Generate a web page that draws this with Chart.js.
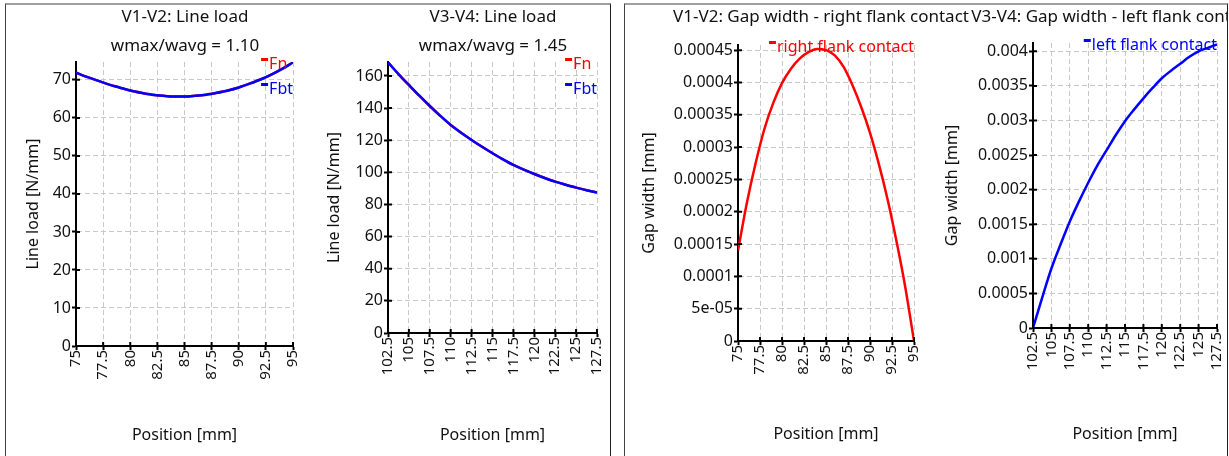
<!DOCTYPE html>
<html>
<head>
<meta charset="utf-8">
<script src="https://cdn.jsdelivr.net/npm/chart.js@4.4.1/dist/chart.umd.min.js"></script>
<style>
html, body { margin: 0; padding: 0; background: #fff; overflow: hidden; width: 1229px; height: 456px; }
.panel { position: absolute; top: 3px; height: 470px; overflow: hidden;
  border-top: 2px solid #a0a0a0; border-left: 1px solid #404040; border-right: 1px solid #202020; }
#p1 { left: 5px; width: 604px; }
#p2 { left: 624px; width: 602px; }
canvas { position: absolute; }
</style>
</head>
<body>
<div class="panel" id="p1">
  <canvas id="c1"></canvas>
  <canvas id="c2"></canvas>
</div>
<div class="panel" id="p2">
  <canvas id="c3"></canvas>
  <canvas id="c4"></canvas>
</div>
<script>
// V1-V2 line load
const posV12 = [75, 76, 77, 78, 79, 80, 81, 82, 83, 84, 85, 86, 87, 88, 89, 90, 91, 92, 93, 94, 95];
const fnV12  = [71.9, 70.8, 69.8, 68.8, 68.0, 67.2, 66.6, 66.1, 65.8, 65.6, 65.6, 65.8, 66.1, 66.6, 67.2, 68.0, 69.0, 70.1, 71.4, 72.9, 74.6];
const fbtV12 = [71.9, 70.8, 69.8, 68.8, 68.0, 67.2, 66.6, 66.1, 65.8, 65.6, 65.6, 65.8, 66.1, 66.6, 67.2, 68.0, 69.0, 70.1, 71.4, 72.9, 74.6];

// V3-V4 line load
const posV34 = [102.5, 103.75, 105, 106.25, 107.5, 108.75, 110, 111.25, 112.5, 113.75, 115,
                116.25, 117.5, 118.75, 120, 121.25, 122.5, 123.75, 125, 126.25, 127.5];
const fnV34  = [168.5, 161.2, 154.4, 147.7, 141.3, 135.2, 129.5, 124.7, 120.2, 115.9, 111.9,
                108.1, 104.6, 101.7, 99.0, 96.5, 94.2, 92.3, 90.5, 88.9, 87.4];
const fbtV34 = [168.5, 161.2, 154.4, 147.7, 141.3, 135.2, 129.5, 124.7, 120.2, 115.9, 111.9,
                108.1, 104.6, 101.7, 99.0, 96.5, 94.2, 92.3, 90.5, 88.9, 87.4];

// gap widths
const gapRightV12 = [0.000140, 0.000213, 0.000275, 0.000328, 0.000368, 0.000399, 0.000421, 0.000437, 0.000447, 0.000452, 0.000450,
                     0.000442, 0.000424, 0.000396, 0.000362, 0.000322, 0.000274, 0.000219, 0.000155, 0.000084, 0.000000];
const gapLeftV34 = [0, 0.00044, 0.00086, 0.00121, 0.00154, 0.00183, 0.00210, 0.00235, 0.00257, 0.00279, 0.00299,
                    0.00316, 0.00332, 0.00347, 0.00361, 0.00372, 0.00382, 0.00392, 0.00400, 0.00405, 0.00410];

// axis ticks
const xTicksV12 = [75, 77.5, 80, 82.5, 85, 87.5, 90, 92.5, 95];
const xTicksV34 = [102.5, 105, 107.5, 110, 112.5, 115, 117.5, 120, 122.5, 125, 127.5];
const yStepLoadV12 = 10, yMaxLoadV12 = 74.7;
const yStepLoadV34 = 20, yMaxLoadV34 = 168.7;
const yStepGapV12 = 0.00005, yMaxGapV12 = 0.000458;
const yStepGapV34 = 0.0005, yMaxGapV34 = 0.00412;

Chart.defaults.font.family = '"Noto Sans", sans-serif';
Chart.defaults.font.size = 16;
Chart.defaults.color = '#111';

const LH = 16 * 1.2;
const TS = 17, TLH = TS * 1.2;

function fmt(v) {
  if (v !== 0 && Math.abs(v) < 1e-4) {
    const parts = v.toExponential().split('e');
    return parts[0] + 'e-' + String(Math.abs(+parts[1])).padStart(2, '0');
  }
  return String(+v.toPrecision(10));
}

// small legend: dash + coloured label, right aligned at the top of the plot
const lineLegend = {
  id: 'lineLegend',
  afterDraw(chart) {
    const {ctx, chartArea} = chart;
    const sets = chart.data.datasets;
    ctx.save();
    ctx.font = '16px "Noto Sans", sans-serif';
    ctx.textBaseline = 'middle';
    const w = Math.max(...sets.map(d => ctx.measureText(d.label).width));
    const x = chartArea.right - w;
    sets.forEach((d, i) => {
      const y = chartArea.top + 2 + i * 25;
      ctx.fillStyle = d.borderColor;
      ctx.fillRect(x - 8, y - 6, 7, 3);
      ctx.fillText(d.label, x, y);
    });
    ctx.restore();
  }
};

// tick marks also reach into the plot
const innerTicks = {
  id: 'innerTicks',
  afterDraw(chart) {
    const {ctx, chartArea, scales} = chart;
    ctx.save();
    ctx.strokeStyle = '#000';
    ctx.lineWidth = 2;
    ctx.beginPath();
    scales.x.ticks.forEach(t => {
      const px = scales.x.getPixelForValue(t.value);
      ctx.moveTo(px, chartArea.bottom);
      ctx.lineTo(px, chartArea.bottom - 4);
    });
    scales.y.ticks.forEach(t => {
      const py = scales.y.getPixelForValue(t.value);
      ctx.moveTo(chartArea.left, py);
      ctx.lineTo(chartArea.left + 4, py);
    });
    ctx.stroke();
    ctx.restore();
  }
};

function makeChart(id, g, opt) {
  const panelX = g.panel === 1 ? 6 : 625, panelY = 5;
  const cw = 2 * (g.tcx - g.cl), ch = 450, ct = 5;
  const el = document.getElementById(id);
  el.width = cw; el.height = ch;
  el.style.left = (g.cl - panelX) + 'px';
  el.style.top = (ct - panelY) + 'px';
  el.style.width = cw + 'px'; el.style.height = ch + 'px';

  const titlePad = {top: g.ty - ct - TLH / 2, bottom: g.sy ? g.sy - g.ty - TLH : g.T - g.ty - TLH / 2};
  const xt = opt.xTicks;

  return new Chart(el, {
    type: 'line',
    data: {datasets: opt.datasets},
    plugins: [lineLegend, innerTicks],
    options: {
      responsive: false,
      animation: false,
      layout: {padding: 0},
      plugins: {
        legend: {display: false},
        tooltip: {enabled: false},
        title: {display: true, text: opt.title, color: '#111', font: {size: TS, weight: 'normal'}, padding: titlePad},
        subtitle: {display: !!opt.subtitle, text: opt.subtitle || '', color: '#111', font: {size: TS},
                   padding: {top: 0, bottom: g.sy ? g.T - g.sy - TLH / 2 : 0}}
      },
      elements: {point: {radius: 0}, line: {borderWidth: 2.5, tension: 0, cubicInterpolationMode: 'monotone'}},
      scales: {
        x: {
          type: 'linear', position: 'bottom',
          min: xt[0], max: xt[xt.length - 1],
          afterFit(s) { s.height = ct + ch - g.B; },
          ticks: {stepSize: xt[1] - xt[0], minRotation: 90, maxRotation: 90, autoSkip: false, padding: 0,
                  font: {size: 15}, color: '#111', callback: v => fmt(v)},
          grid: {color: '#c8c8c8', lineWidth: 1, tickColor: '#000', tickLength: 4, tickWidth: 2, tickBorderDash: []},
          border: {display: true, color: '#000', width: 2, dash: [5, 3]},
          title: {display: true, text: 'Position [mm]', color: '#111', font: {size: 16},
                  padding: {top: 0, bottom: ct + ch - g.xty - LH / 2}}
        },
        y: {
          type: 'linear', position: 'left',
          min: 0, max: opt.yMax,
          afterFit(s) { s.width = g.L - g.cl; },
          ticks: {stepSize: opt.yStep, includeBounds: false, autoSkip: false, padding: 1,
                  font: {size: 16}, color: '#111', callback: v => fmt(v)},
          grid: {color: '#c8c8c8', lineWidth: 1, tickColor: '#000', tickLength: 4, tickWidth: 2, tickBorderDash: []},
          border: {display: true, color: '#000', width: 2, dash: [5, 3]},
          title: {display: true, text: opt.yTitle, color: '#111', font: {size: 16},
                  padding: {top: g.ytx - g.cl - LH / 2, bottom: 0}}
        },
        pad: {
          type: 'linear', position: 'right', display: true,
          afterFit(s) { s.width = g.cl + cw - g.R; },
          ticks: {display: false},
          grid: {display: false, drawTicks: false},
          border: {display: false}
        }
      }
    }
  });
}

function pts(xs, ys) { return xs.map((x, i) => ({x: x, y: ys[i]})); }

makeChart('c1', {panel: 1, cl: 6, tcx: 185, L: 76, R: 293, T: 62, B: 346, ty: 17, sy: 46, ytx: 33, xty: 435}, {
  title: 'V1-V2: Line load', subtitle: 'wmax/wavg = 1.10', yTitle: 'Line load [N/mm]',
  xTicks: xTicksV12, yStep: yStepLoadV12, yMax: yMaxLoadV12,
  datasets: [
    {label: 'Fn', data: pts(posV12, fnV12), borderColor: '#ff0000', order: 1},
    {label: 'Fbt', data: pts(posV12, fbtV12), borderColor: '#0000ff', order: 0}
  ]
});

makeChart('c2', {panel: 1, cl: 320, tcx: 493, L: 388, R: 597, T: 62, B: 333, ty: 17, sy: 46, ytx: 334, xty: 435}, {
  title: 'V3-V4: Line load', subtitle: 'wmax/wavg = 1.45', yTitle: 'Line load [N/mm]',
  xTicks: xTicksV34, yStep: yStepLoadV34, yMax: yMaxLoadV34,
  datasets: [
    {label: 'Fn', data: pts(posV34, fnV34), borderColor: '#ff0000', order: 1},
    {label: 'Fbt', data: pts(posV34, fbtV34), borderColor: '#0000ff', order: 0}
  ]
});

makeChart('c3', {panel: 2, cl: 628, tcx: 821, L: 738, R: 914, T: 45, B: 341, ty: 17, ytx: 649, xty: 434}, {
  title: 'V1-V2: Gap width - right flank contact', yTitle: 'Gap width [mm]',
  xTicks: xTicksV12, yStep: yStepGapV12, yMax: yMaxGapV12,
  datasets: [
    {label: 'right flank contact', data: pts(posV12, gapRightV12), borderColor: '#ff0000'}
  ]
});

makeChart('c4', {panel: 2, cl: 942, tcx: 1113, L: 1033, R: 1217, T: 43, B: 328, ty: 17, ytx: 952, xty: 434}, {
  title: 'V3-V4: Gap width - left flank contact', yTitle: 'Gap width [mm]',
  xTicks: xTicksV34, yStep: yStepGapV34, yMax: yMaxGapV34,
  datasets: [
    {label: 'left flank contact', data: pts(posV34, gapLeftV34), borderColor: '#0000ff'}
  ]
});
</script>
</body>
</html>
